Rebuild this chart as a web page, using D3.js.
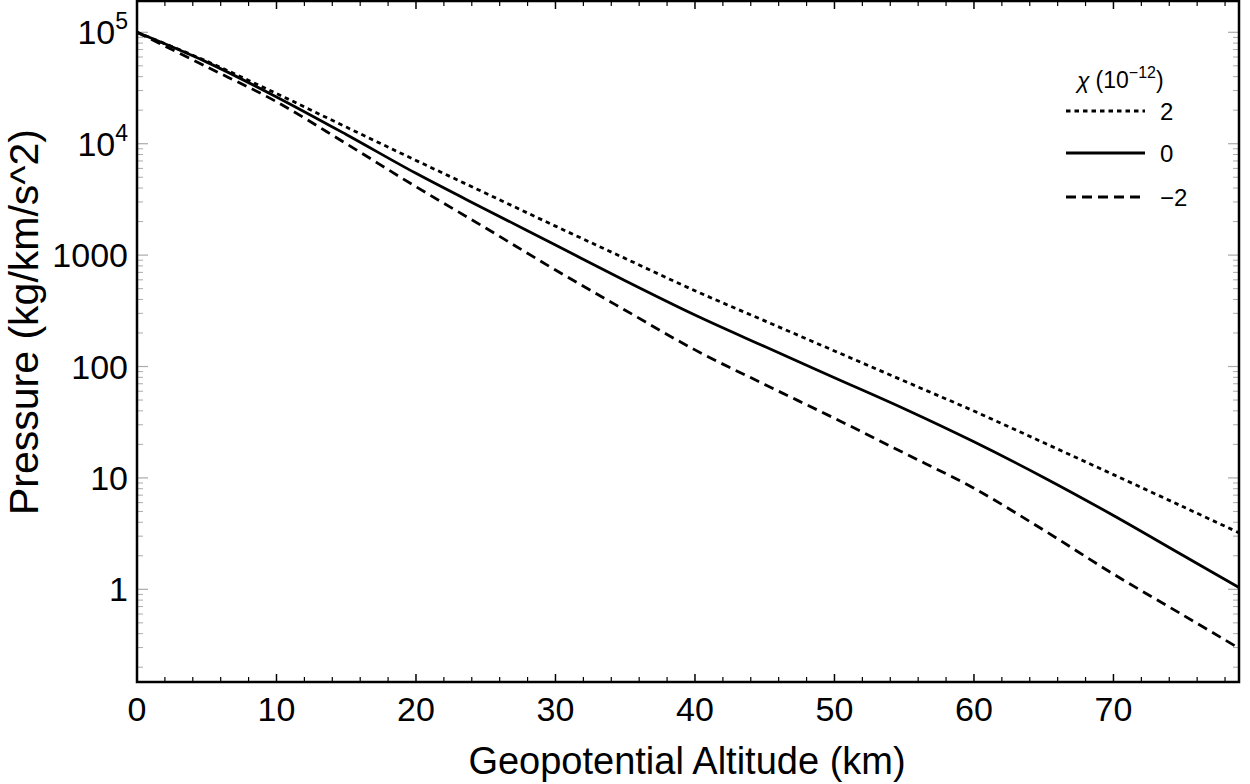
<!DOCTYPE html>
<html>
<head>
<meta charset="utf-8">
<script src="https://cdn.jsdelivr.net/npm/d3@7"></script>
<style>
  body { margin: 0; background: #fff; }
  svg text { font-family: "Liberation Sans", Arial, sans-serif; fill: #000; }
</style>
</head>
<body>
<div id="chart"></div>
<script>
// altitude samples (km)
const altitude = [0, 5, 10, 15, 20, 25, 30, 35, 40, 45, 50, 55, 60, 65, 70, 75, 79];

// pressure for each chi value
const pressurePlus2 = [100000, 55000, 28200, 14100, 7080, 3590, 1820, 933, 479, 257, 138, 74.1, 39.8, 20.7, 10.7, 5.5, 3.22];
const pressureZero = [100000, 54000, 26300, 12100, 5420, 2570, 1233, 589, 290, 151, 79.4, 41.8, 21.1, 10.1, 4.6, 2.01, 1.04];
const pressureMinus2 = [100000, 49000, 23800, 10000, 4110, 1750, 735, 320, 141, 69, 34.3, 16.7, 8.07, 3.4, 1.37, 0.586, 0.296];

const seriesNames = ["2", "0", "\u22122"];
const seriesValues = [pressurePlus2, pressureZero, pressureMinus2];
const dashes = ["4.5,4", null, "10,6"];

const yTickValues = [1, 10, 100, 1000, 10000, 100000];
const xTickValues = [0, 10, 20, 30, 40, 50, 60, 70];

// set the dimensions and margins of the graph
const W = 1250, H = 784;
const margin = { top: 1, right: 11, bottom: 102, left: 137 },
    width = W - margin.left - margin.right,
    height = H - margin.top - margin.bottom;

const svg = d3.select("#chart")
  .append("svg")
    .attr("width", W)
    .attr("height", H);

const g = svg.append("g")
    .attr("transform", `translate(${margin.left},${margin.top})`);

const x = d3.scaleLinear().domain([0, 79]).range([0, width]);
const y = d3.scaleLog().domain([Math.pow(10, -0.832), Math.pow(10, 5.281)]).range([height, 0]);

// minor/major ticks
const xMinor = d3.range(0, 79.01, 2).filter(v => v % 10 !== 0);
const yMinor = [];
for (let e = -1; e <= 5; e++) {
  for (let m = 2; m <= 9; m++) {
    const v = m * Math.pow(10, e);
    if (v >= y.domain()[0] && v <= y.domain()[1]) yMinor.push(v);
  }
}

// x ticks bottom + top
[[height, -1], [0, 1]].forEach(([y0, dir]) => {
  g.selectAll(null).data(xTickValues).join("line")
    .attr("x1", d => x(d)).attr("x2", d => x(d))
    .attr("y1", y0).attr("y2", y0 + dir * 8)
    .attr("stroke", "#000").attr("stroke-width", 1.5);
  g.selectAll(null).data(xMinor).join("line")
    .attr("x1", d => x(d)).attr("x2", d => x(d))
    .attr("y1", y0).attr("y2", y0 + dir * 5)
    .attr("stroke", "#000").attr("stroke-width", 1.2);
});

// y ticks left + right (grey)
[[0, 1], [width, -1]].forEach(([x0, dir]) => {
  g.selectAll(null).data(yTickValues).join("line")
    .attr("x1", x0).attr("x2", x0 + dir * 11)
    .attr("y1", d => y(d)).attr("y2", d => y(d))
    .attr("stroke", "#aaa").attr("stroke-width", 1.2);
  g.selectAll(null).data(yMinor).join("line")
    .attr("x1", x0).attr("x2", x0 + dir * 6)
    .attr("y1", d => y(d)).attr("y2", d => y(d))
    .attr("stroke", "#aaa").attr("stroke-width", 1);
});

// lines
const line = d3.line()
  .x((d, i) => x(altitude[i]))
  .y(d => y(d))
  .curve(d3.curveCatmullRom.alpha(0.5));

g.selectAll(".line")
  .data(seriesValues)
  .join("path")
    .attr("class", "line")
    .attr("fill", "none")
    .attr("stroke", "#000")
    .attr("stroke-width", 2.8)
    .attr("stroke-dasharray", (d, i) => dashes[i])
    .attr("d", d => line(d));

// frame
g.append("rect")
  .attr("x", 0).attr("y", 0)
  .attr("width", width).attr("height", height)
  .attr("fill", "none").attr("stroke", "#000").attr("stroke-width", 2.5);

// x tick labels
g.selectAll(null).data(xTickValues).join("text")
  .attr("x", d => x(d))
  .attr("y", height + 39)
  .attr("text-anchor", "middle")
  .style("font-size", "34px")
  .text(d => d);

// y tick labels
const yl = g.selectAll(null).data(yTickValues).join("text")
  .attr("x", -9)
  .attr("y", d => y(d) + 12)
  .attr("text-anchor", "end")
  .style("font-size", "34px");
yl.each(function(d) {
  const t = d3.select(this);
  if (d >= 10000) {
    t.append("tspan").text("10");
    t.append("tspan").attr("dy", -15).style("font-size", "23px").text(Math.round(Math.log10(d)));
  } else {
    t.text(d);
  }
});

// axis titles
svg.append("text")
  .attr("x", margin.left + width / 2 - 1)
  .attr("y", 774)
  .attr("text-anchor", "middle")
  .style("font-size", "38px")
  .text("Geopotential Altitude (km)");

svg.append("text")
  .attr("transform", "translate(38,322) rotate(-90)")
  .attr("text-anchor", "middle")
  .style("font-size", "41px")
  .text("Pressure (kg/km/s^2)");

// legend
const legend = svg.append("g");
const lt = legend.append("text")
  .attr("x", 1077).attr("y", 88)
  .style("font-size", "23px");
lt.append("tspan").style("font-style", "italic").text("\u03c7");
lt.append("tspan").attr("dx", 6).text("(10");
lt.append("tspan").attr("dy", -10).style("font-size", "16px").text("\u221212");
lt.append("tspan").attr("dy", 10).text(")");

const legY = [111, 153, 197];
legend.selectAll(null).data(seriesNames).join("line")
  .attr("x1", 1066).attr("x2", 1145)
  .attr("y1", (d, i) => legY[i]).attr("y2", (d, i) => legY[i])
  .attr("stroke", "#000").attr("stroke-width", 2.8)
  .attr("stroke-dasharray", (d, i) => dashes[i]);
legend.selectAll(null).data(seriesNames).join("text")
  .attr("x", 1160)
  .attr("y", (d, i) => legY[i] + 9)
  .style("font-size", "24px")
  .text(d => d);
</script>
</body>
</html>
